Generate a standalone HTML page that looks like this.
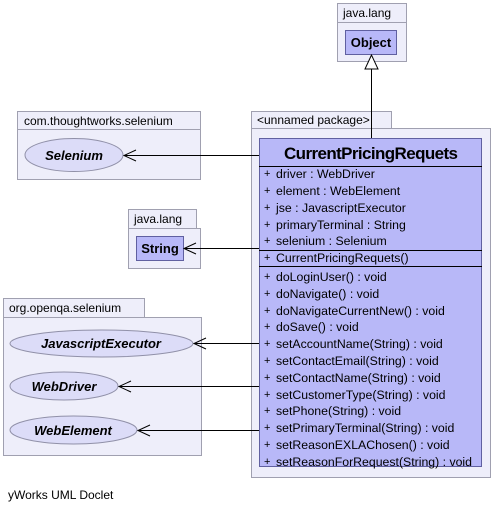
<!DOCTYPE html>
<html><head><style>
body{margin:0;width:493px;height:515px;background:#fff;overflow:hidden}
svg text{font-family:"Liberation Sans",sans-serif}
</style></head><body>
<svg width="493" height="515" xmlns="http://www.w3.org/2000/svg">
<g fill="#eeeefa" stroke="#a0a0b0" stroke-width="1">
<rect x="337.5" y="3.5" width="69" height="19"/><rect x="337.5" y="22.5" width="69" height="39"/>
<rect x="17.5" y="111.5" width="183" height="18"/><rect x="17.5" y="129.5" width="183" height="50"/>
<rect x="128.5" y="209.5" width="68" height="19"/><rect x="128.5" y="228.5" width="72" height="40"/>
<rect x="3.5" y="298.5" width="141" height="19"/><rect x="3.5" y="317.5" width="198" height="138"/>
<rect x="251.5" y="111.5" width="140" height="17"/><rect x="251.5" y="128.5" width="239" height="349"/>
</g>
<g font-size="12" fill="#000">
<text x="343" y="17">java.lang</text>
<text x="24" y="125">com.thoughtworks.selenium</text>
<text x="134" y="223">java.lang</text>
<text x="9" y="312">org.openqa.selenium</text>
<text x="257" y="124">&lt;unnamed package&gt;</text>
<text x="8" y="499">yWorks UML Doclet</text>
</g>
<g fill="#b8b8f8" stroke="#000">
<rect x="345.5" y="30.5" width="51" height="24" stroke="#6060a0"/>
<rect x="136.5" y="236.5" width="47" height="24" stroke="#6060a0"/>
<rect x="259.5" y="138.5" width="222" height="328" stroke="#6060a0"/>
</g>
<g fill="#dcdcf8" stroke="#9090a8">
<ellipse cx="74" cy="155" rx="49" ry="16.5"/>
<ellipse cx="101.5" cy="343.5" rx="91.5" ry="13.5"/>
<ellipse cx="64" cy="386" rx="54" ry="14"/>
<ellipse cx="73.5" cy="430" rx="63.5" ry="14"/>
</g>
<g font-weight="bold" font-size="13" text-anchor="middle">
<text x="371" y="47">Object</text>
<text x="160" y="253">String</text>
<text x="371" y="159" font-size="17" textLength="174">CurrentPricingRequets</text>
<g font-style="italic"><text x="74" y="160">Selenium</text>
<text x="101" y="348">JavascriptExecutor</text>
<text x="64" y="391">WebDriver</text>
<text x="73" y="435">WebElement</text></g>
</g>
<g stroke="#000" fill="none" stroke-width="1">
<line x1="259" y1="166.5" x2="482" y2="166.5"/>
<line x1="259" y1="250.5" x2="482" y2="250.5"/>
<line x1="259" y1="266.5" x2="482" y2="266.5"/>
<line x1="371.5" y1="138" x2="371.5" y2="69"/>
<polygon points="371.5,55 365,69 378,69" fill="#fff"/>
<line x1="259" y1="155.5" x2="124" y2="155.5"/><polyline points="136,150 124,155.5 136,161"/>
<line x1="259" y1="248.5" x2="184" y2="248.5"/><polyline points="196,243 184,248.5 196,254"/>
<line x1="259" y1="343.5" x2="194" y2="343.5"/><polyline points="206,338 194,343.5 206,349"/>
<line x1="259" y1="386.5" x2="119" y2="386.5"/><polyline points="131,381 119,386.5 131,392"/>
<line x1="259" y1="430.5" x2="138" y2="430.5"/><polyline points="150,425 138,430.5 150,436"/>
</g>
<g font-size="12.3" fill="#000">
<g font-size="11">
<text x="264" y="177">+</text><text x="264" y="194">+</text><text x="264" y="211">+</text><text x="264" y="228">+</text><text x="264" y="244">+</text><text x="264" y="261">+</text>
<text x="264" y="280">+</text><text x="264" y="297">+</text><text x="264" y="314">+</text><text x="264" y="330">+</text><text x="264" y="347">+</text><text x="264" y="364">+</text>
<text x="264" y="381">+</text><text x="264" y="398">+</text><text x="264" y="414">+</text><text x="264" y="431">+</text><text x="264" y="448">+</text><text x="264" y="465">+</text>
</g>
<text x="276" y="178">driver : WebDriver</text>
<text x="276" y="195">element : WebElement</text>
<text x="276" y="212">jse : JavascriptExecutor</text>
<text x="276" y="229">primaryTerminal : String</text>
<text x="276" y="245">selenium : Selenium</text>
<text x="276" y="262">CurrentPricingRequets()</text>
<text x="276" y="281">doLoginUser() : void</text>
<text x="276" y="298">doNavigate() : void</text>
<text x="276" y="315">doNavigateCurrentNew() : void</text>
<text x="276" y="331">doSave() : void</text>
<text x="276" y="348">setAccountName(String) : void</text>
<text x="276" y="365">setContactEmail(String) : void</text>
<text x="276" y="382">setContactName(String) : void</text>
<text x="276" y="399">setCustomerType(String) : void</text>
<text x="276" y="415">setPhone(String) : void</text>
<text x="276" y="432">setPrimaryTerminal(String) : void</text>
<text x="276" y="449">setReasonEXLAChosen() : void</text>
<text x="276" y="466" textLength="196">setReasonForRequest(String) : void</text>
</g>
</svg>
</body></html>
